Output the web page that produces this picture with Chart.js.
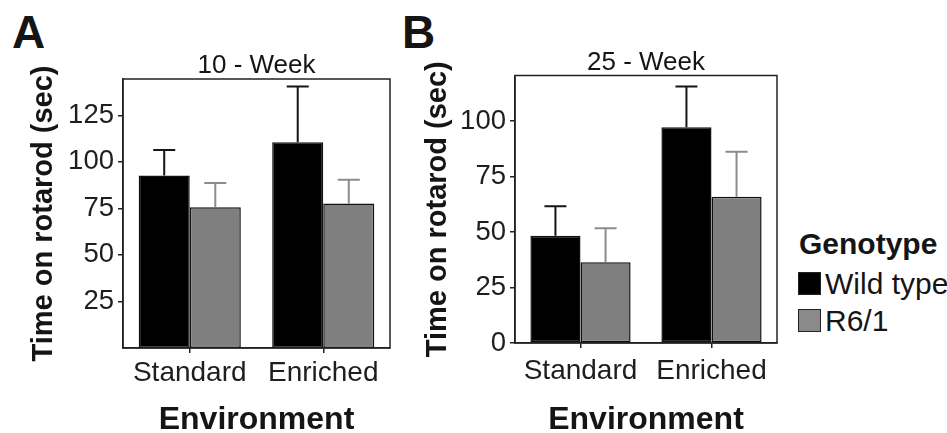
<!DOCTYPE html>
<html>
<head>
<meta charset="utf-8">
<script src="https://cdn.jsdelivr.net/npm/chart.js@4.4.1/dist/chart.umd.min.js"></script>
<style>
  body { margin: 0; background: #fff; width: 947px; height: 433px; overflow: hidden; position: relative; font-family: 'Liberation Sans', Arial, sans-serif; color: #151515; }
  canvas { position: absolute; top: 0; }
  #chartA { left: 0; }
  #chartB { left: 395px; }
  .panel { position: absolute; top: 9px; font-weight: bold; font-size: 46px; line-height: 46px; }
  #legend { position: absolute; left: 798px; top: 229px; white-space: nowrap; }
  #legend .ttl { font-weight: bold; font-size: 30px; line-height: 30px; margin-left: 1px; }
  #legend .item { position: relative; height: 37px; font-size: 30px; line-height: 30px; }
  #legend .box { position: absolute; left: 0; width: 21px; height: 21px; border: 1px solid #222; }
  #legend .lbl { position: absolute; left: 27px; }
</style>
</head>
<body>
<div class="panel" style="left:12px">A</div>
<div class="panel" style="left:402px">B</div>
<canvas id="chartA" width="400" height="433"></canvas>
<canvas id="chartB" width="395" height="433"></canvas>
<div id="legend"></div>
<script>
const categories = ['Standard', 'Enriched'];
const genotypes = ['Wild type', 'R6/1'];
const barColors = ['#000000', '#7f7f7f'];
const errColors = ['#151515', '#8c8c8c'];
const legendTitle = 'Genotype';

// 10-week panel
const wt10 = [92.6, 110.5];
const wt10Err = [13.8, 30.0];
const r6_10 = [75.6, 77.6];
const r6_10Err = [13.1, 12.8];
const ticks10 = [25, 50, 75, 100, 125];
const yMax10 = 144.5;

// 25-week panel
const wt25 = [48.4, 97.3];
const wt25Err = [13.3, 18.3];
const r6_25 = [36.4, 65.9];
const r6_25Err = [15.3, 20.3];
const ticks25 = [0, 25, 50, 75, 100];
const yMax25 = 120.6;

Chart.defaults.font.family = "'Liberation Sans', Arial, sans-serif";
Chart.defaults.color = '#1e1e1e';

const errorBars = {
    id: 'errorBars',
    afterDatasetsDraw(chart) {
        const ctx = chart.ctx, y = chart.scales.y;
        chart.data.datasets.forEach((ds, i) => {
            chart.getDatasetMeta(i).data.forEach((bar, j) => {
                const top = y.getPixelForValue(ds.data[j] + ds.errors[j]);
                ctx.save();
                ctx.strokeStyle = ds.errColor; ctx.lineWidth = 2;
                ctx.beginPath();
                ctx.moveTo(bar.x, bar.y); ctx.lineTo(bar.x, top);
                ctx.moveTo(bar.x - 11, top); ctx.lineTo(bar.x + 11, top);
                ctx.stroke();
                ctx.restore();
            });
        });
    }
};

const frame = {
    id: 'frame',
    afterDraw(chart) {
        const a = chart.chartArea, ctx = chart.ctx;
        ctx.save();
        ctx.strokeStyle = '#222'; ctx.lineWidth = 1.5;
        ctx.strokeRect(a.left, a.top, a.right - a.left, a.bottom - a.top);
        ctx.restore();
    }
};

function makePanel(id, title, wt, wtErr, r6, r6Err, tickVals, yMax, g) {
    return new Chart(document.getElementById(id), {
        type: 'bar',
        data: {
            labels: categories,
            datasets: [
                { label: genotypes[0], data: wt, errors: wtErr, errColor: errColors[0], backgroundColor: barColors[0] },
                { label: genotypes[1], data: r6, errors: r6Err, errColor: errColors[1], backgroundColor: barColors[1] }
            ]
        },
        options: {
            responsive: false,
            animation: false,
            layout: { padding: { left: 0, top: g.top, right: g.right, bottom: 0 } },
            datasets: { bar: { categoryPercentage: 0.765, barPercentage: 1, borderColor: '#111', borderWidth: 1.5, borderSkipped: false } },
            plugins: {
                legend: { display: false },
                tooltip: { enabled: false },
                title: { display: true, fullSize: false, text: title, color: '#151515', font: { size: 26, weight: 'normal', lineHeight: 1 }, padding: { top: 0, bottom: g.titleGap } }
            },
            scales: {
                x: {
                    grid: { display: true, drawOnChartArea: false, drawTicks: true, tickLength: 5, offset: false, color: '#222', lineWidth: 1.5 },
                    border: { display: true, color: '#222', width: 1.5 },
                    ticks: { font: { size: 28, lineHeight: 1 }, padding: g.xPad, color: '#1e1e1e' },
                    title: { display: true, text: 'Environment', color: '#151515', font: { size: 32, weight: 'bold', lineHeight: 0.8 }, padding: { top: 0, bottom: 0 } },
                    afterFit(s) { s.height = g.xHeight; }
                },
                y: {
                    min: 0, max: yMax,
                    afterBuildTicks(s) { s.ticks = tickVals.map(v => ({ value: v })); },
                    grid: { display: true, drawOnChartArea: false, drawTicks: true, tickLength: 5, color: '#222', lineWidth: 1.5 },
                    border: { display: true, color: '#222', width: 1.5 },
                    ticks: { font: { size: 27.5 }, padding: 4, color: '#1e1e1e' },
                    title: { display: true, text: 'Time on rotarod (sec)', color: '#151515', font: { size: 29, weight: 'bold', lineHeight: 1 }, padding: { top: g.yTitlePad, bottom: 0 } },
                    afterFit(s) { s.width = g.yWidth; }
                }
            }
        },
        plugins: [errorBars, frame]
    });
}

makePanel('chartA', '10 - Week', wt10, wt10Err, r6_10, r6_10Err, ticks10, yMax10,
    { top: 53, right: 10, titleGap: 0, xPad: 6, xHeight: 85, yWidth: 123, yTitlePad: 29.5 });
makePanel('chartB', '25 - Week', wt25, wt25Err, r6_25, r6_25Err, ticks25, yMax25,
    { top: 49.5, right: 13, titleGap: 0, xPad: 9, xHeight: 90, yWidth: 120, yTitlePad: 28 });

// legend built from the same series names and colours
const legend = document.getElementById('legend');
legend.innerHTML = `<div class="ttl">${legendTitle}</div>` + genotypes.map((g, i) => `
    <div class="item" style="${i === 0 ? 'margin-top:10px' : ''}">
        <span class="box" style="background:${i === 0 ? barColors[0] : '#8a8a8a'}; top:${3}px"></span>
        <span class="lbl">${g}</span>
    </div>`).join('');
</script>
</body>
</html>
